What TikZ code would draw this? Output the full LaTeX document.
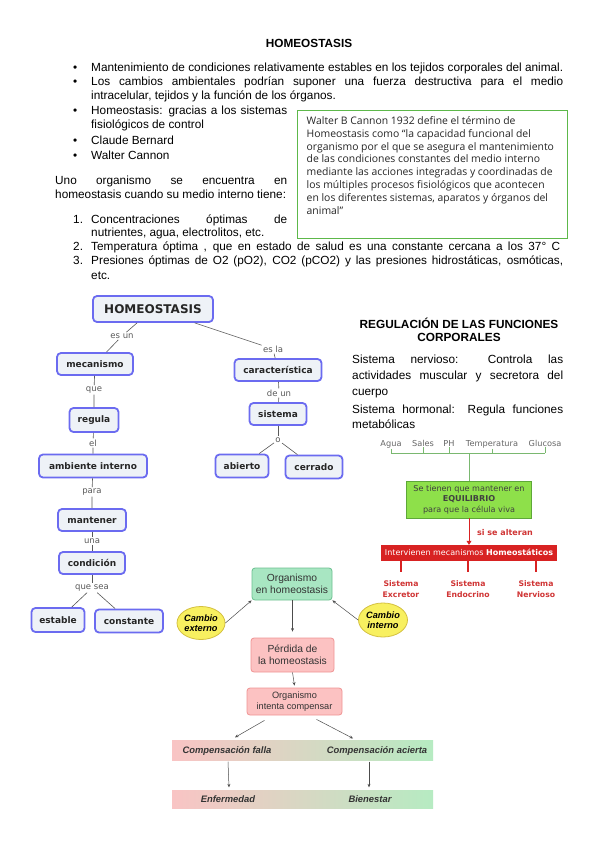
\documentclass[tikz,border=0pt]{standalone}
\usepackage{fontspec}
\setmainfont{Liberation Sans}
\newfontfamily\dvs{DejaVu Sans}
\newfontfamily\cfont{Open Sans}
\usetikzlibrary{arrows.meta,shapes.geometric,calc}
\definecolor{cmborder}{HTML}{6B6BF0}
\definecolor{cmfill}{HTML}{EEF2F7}
\definecolor{cannon}{HTML}{5DB84A}
\definecolor{lime}{HTML}{8EE04A}
\definecolor{limeb}{HTML}{5EA838}
\definecolor{rojo}{HTML}{D82222}
\definecolor{rojotxt}{HTML}{D03535}
\definecolor{mint}{HTML}{A8E6C2}
\definecolor{mintb}{HTML}{6CC090}
\definecolor{rosa}{HTML}{FCC2C2}
\definecolor{rosab}{HTML}{F09494}
\definecolor{amar}{HTML}{F8F060}
\definecolor{amarb}{HTML}{D4C040}
\definecolor{bandpink}{HTML}{F9C4C4}
\definecolor{bandgreen}{HTML}{B6EBC2}
\definecolor{brkgreen}{HTML}{7AB870}
\newcommand{\jl}[2]{\makebox[#1][s]{#2}}
\begin{document}
\begin{tikzpicture}[x=1pt,y=-1pt,
  body/.style={anchor=base west,inner sep=0pt,font=\fontsize{11.8}{14}\selectfont},
  cbox/.style={draw=cmborder,line width=1.8pt,fill=cmfill,rounded corners=4pt,inner sep=0pt,font=\dvs\bfseries\fontsize{9}{11}\selectfont,text=black!85},
  clab/.style={inner sep=1.2pt,font=\dvs\fontsize{8.5}{10}\selectfont,text=black!65},
  cline/.style={draw=black!65,line width=0.6pt},
  rlab/.style={anchor=base,inner sep=1pt,font=\dvs\fontsize{8.2}{9}\selectfont,text=black!60},
  brk/.style={draw=brkgreen,line width=0.8pt},
  stxt/.style={align=center,font=\dvs\bfseries\fontsize{7.7}{11}\selectfont,text=rojotxt,inner sep=0pt},
  stem/.style={draw=rojo,line width=1.6pt},
  fbox/.style={rounded corners=3pt,line width=0.8pt,align=center,inner sep=0pt,font=\fontsize{10.3}{12}\selectfont,text=black!80},
  arr/.style={draw=black!70,line width=0.5pt,-{Stealth[length=3.5pt,width=3pt]}},
  band/.style={minimum width=261pt,inner sep=0pt,left color=bandpink,right color=bandgreen,draw=none},
  btxt/.style={font=\bfseries\itshape\fontsize{9.4}{11}\selectfont,text=black!80,inner sep=1pt}
]
\useasboundingbox[fill=white] (0,0) rectangle (599,848);

% ---------- header text ----------
\node[body,anchor=base,font=\bfseries\fontsize{11.8}{14}\selectfont] (title) at (309,48) {HOMEOSTASIS};
\node[body] (bu1) at (73,72) {\textbullet};
\node[body] (bu2) at (73,86) {\textbullet};
\node[body] (bu3) at (73,114) {\textbullet};
\node[body] (bu4) at (73,144) {\textbullet};
\node[body] (bu5) at (73,159) {\textbullet};
\node[body] (l1) at (91,72) {\jl{472pt}{Mantenimiento de condiciones relativamente estables en los tejidos corporales del animal.}};
\node[body] (l2) at (91,86) {\jl{472pt}{Los cambios ambientales podrían suponer una fuerza destructiva para el medio}};
\node[body] (l3) at (91,99.5) {intracelular, tejidos y la función de los órganos.};
\node[body] (l4) at (91,114) {\jl{196pt}{Homeostasis: gracias a los sistemas}};
\node[body] (l5) at (91,128.5) {fisiológicos de control};
\node[body] (l6) at (91,144) {Claude Bernard};
\node[body] (l7) at (91,159) {Walter Cannon};
\node[body] (l8) at (55,184) {\jl{232pt}{Uno organismo se encuentra en}};
\node[body] (l9) at (55,198.5) {homeostasis cuando su medio interno tiene:};
\node[body] (n1) at (73,223) {1.};
\node[body] (l10) at (91,223) {\jl{196pt}{Concentraciones óptimas de}};
\node[body] (l11) at (91,236) {nutrientes, agua, electrolitos, etc.};
\node[body] (n2) at (73,250) {2.};
\node[body] (l12) at (91,250) {\jl{469pt}{Temperatura óptima , que en estado de salud es una constante cercana a los 37° C}};
\node[body] (n3) at (73,264) {3.};
\node[body] (l13) at (91,264) {\jl{472pt}{Presiones óptimas de O2 (pO2), CO2 (pCO2) y las presiones hidrostáticas, osmóticas,}};
\node[body] (l14) at (91,279) {etc.};

% ---------- Cannon box ----------
\node[draw=cannon,line width=1.2pt,minimum width=270pt,minimum height=128pt,inner sep=0pt,anchor=north west] (cbx) at (297,110) {};
\node[anchor=north west,inner sep=0pt,align=left,font=\cfont\fontsize{10.4}{12.9}\selectfont,text=black!85] (ctx) at (306.5,115) {\strut Walter B Cannon 1932 define el término de\\Homeostasis como “la capacidad funcional del\\organismo por el que se asegura el mantenimiento\\de las condiciones constantes del medio interno\\mediante las acciones integradas y coordinadas de\\los múltiples procesos fisiológicos que acontecen\\en los diferentes sistemas, aparatos y órganos del\\animal”};

% ---------- concept map ----------
\node[cbox,minimum width=120pt,minimum height=26pt,font=\dvs\bfseries\fontsize{12}{14}\selectfont] (homeo) at (153,309) {HOMEOSTASIS};
\node[clab] (esun) at (122,336) {es un};
\node[cbox,minimum width=76pt,minimum height=22pt] (mecan) at (95,364) {mecanismo};
\node[clab] (que) at (94,390) {que};
\node[cbox,minimum width=49pt,minimum height=24pt] (regula) at (94,420) {regula};
\node[clab] (el) at (93,443) {el};
\node[cbox,minimum width=108pt,minimum height=23pt] (ambiente) at (93,466) {ambiente interno};
\node[clab] (para) at (92,492) {para};
\node[cbox,minimum width=68pt,minimum height=22pt] (mantener) at (92,520) {mantener};
\node[clab] (una) at (92,541) {una};
\node[cbox,minimum width=66pt,minimum height=22pt] (condicion) at (92,563) {condición};
\node[clab] (quesea) at (92,588) {que sea};
\node[cbox,minimum width=53pt,minimum height=24pt] (estable) at (58,620) {estable};
\node[cbox,minimum width=68pt,minimum height=23pt] (constante) at (129,621) {constante};
\node[clab] (esla) at (273,349) {es la};
\node[cbox,minimum width=87pt,minimum height=22pt] (caract) at (278,370) {característica};
\node[clab] (deun) at (279,393) {de un};
\node[cbox,minimum width=57pt,minimum height=22pt] (sistema) at (278,414) {sistema};
\node[clab] (o) at (278,440) {o};
\node[cbox,minimum width=53pt,minimum height=23pt] (abierto) at (242,466) {abierto};
\node[cbox,minimum width=57pt,minimum height=23pt] (cerrado) at (314,467) {cerrado};

\draw[cline] (homeo) -- (esun) -- (mecan);
\draw[cline] (mecan) -- (que) -- (regula);
\draw[cline] (regula) -- (el) -- (ambiente);
\draw[cline] (ambiente) -- (para) -- (mantener);
\draw[cline] (mantener) -- (una) -- (condicion);
\draw[cline] (condicion) -- (quesea);
\draw[cline] (quesea) -- (estable);
\draw[cline] (quesea) -- (constante);
\draw[cline] (homeo) -- (esla) -- (caract);
\draw[cline] (caract) -- (deun) -- (sistema);
\draw[cline] (sistema) -- (o);
\draw[cline] (o) -- (abierto);
\draw[cline] (o) -- (cerrado);

% ---------- regulación ----------
\node[body,anchor=base,font=\bfseries\fontsize{11.8}{14}\selectfont] (reg1) at (459,328) {REGULACIÓN DE LAS FUNCIONES};
\node[body,anchor=base,font=\bfseries\fontsize{11.8}{14}\selectfont] (reg2) at (459,341.5) {CORPORALES};
\node[body] (r1) at (352,363) {\jl{211pt}{Sistema nervioso: Controla las}};
\node[body] (r2) at (352,379) {\jl{211pt}{actividades muscular y secretora del}};
\node[body] (r3) at (352,395) {cuerpo};
\node[body] (r4) at (352,413) {\jl{211pt}{Sistema hormonal: Regula funciones}};
\node[body] (r5) at (352,428) {metabólicas};

% ---------- equilibrio chart ----------
\node[rlab] (agua) at (391,446) {Agua};
\node[rlab] (sales) at (423,446) {Sales};
\node[rlab] (ph) at (449,446) {PH};
\node[rlab] (temp) at (492,446) {Temperatura};
\node[rlab] (glucosa) at (545,446) {Glucosa};
\coordinate (bar) at (469,453);
\draw[brk] (agua.south |- bar) -- (glucosa.south |- bar);
\foreach \n in {agua,sales,ph,temp,glucosa} {\draw[brk] (\n.south) -- (\n.south |- bar);}
\node[draw=limeb,fill=lime,line width=0.6pt,minimum width=125pt,minimum height=37pt,inner sep=0pt,align=center,font=\dvs\fontsize{8.1}{10.7}\selectfont,text=black!75] (eq) at (469,499.5) {Se tienen que mantener en\\\textbf{EQUILIBRIO}\\para que la célula viva};
\draw[brk] (bar) -- (eq.north);
\node[fill=rojo,draw=rojo,minimum width=175pt,minimum height=15pt,inner sep=0pt,text=white,font=\dvs\fontsize{8}{9}\selectfont] (inter) at (469,552.5) {Intervienen mecanismos \textbf{Homeostáticos}};
\draw[draw=rojo,line width=0.8pt,-{Triangle[length=4pt,width=5pt]}] (eq.south) -- (inter.north);
\node[font=\dvs\bfseries\fontsize{8}{9}\selectfont,text=rojotxt] (alter) at (505,533) {si se alteran};
\node[stxt] (s1) at (401,589) {Sistema\\Excretor};
\node[stxt] (s2) at (468,589) {Sistema\\Endocrino};
\node[stxt] (s3) at (536,589) {Sistema\\Nervioso};
\draw[stem,shorten >=8pt] (inter.south -| s1.north) -- (s1.north);
\draw[stem,shorten >=8pt] (inter.south -| s2.north) -- (s2.north);
\draw[stem,shorten >=8pt] (inter.south -| s3.north) -- (s3.north);

% ---------- homeostasis flow ----------
\node[fbox,draw=mintb,fill=mint,minimum width=80pt,minimum height=32pt] (org) at (292,584) {Organismo\\en homeostasis};
\node[ellipse,draw=amarb,fill=amar,line width=0.8pt,minimum width=48pt,minimum height=33pt,inner sep=0pt,align=center,font=\bfseries\itshape\fontsize{9.2}{10.5}\selectfont] (cext) at (201,623) {Cambio\\externo};
\node[ellipse,draw=amarb,fill=amar,line width=0.8pt,minimum width=49pt,minimum height=34pt,inner sep=0pt,align=center,font=\bfseries\itshape\fontsize{9.2}{10.5}\selectfont] (cint) at (383,620) {Cambio\\interno};
\node[fbox,draw=rosab,fill=rosa,minimum width=83pt,minimum height=34pt] (perd) at (292.5,655) {Pérdida de\\la homeostasis};
\node[fbox,draw=rosab,fill=rosa,minimum width=95pt,minimum height=27pt,font=\fontsize{9.2}{11}\selectfont] (intc) at (294.5,701.5) {Organismo\\intenta compensar};
\draw[arr] (cext.east) -- (org.south west);
\draw[arr] (cint.west) -- (org.south east);
\draw[arr] (org.south -| perd.north) -- ($(perd.north)+(0,-6)$);
\draw[arr] (perd.south) -- ($(intc.north)+(0,-2)$);

\node[band,minimum height=20pt] (band1) at (302.5,750) {};
\node[band,minimum height=18pt] (band2) at (302.5,799) {};
\node[btxt] (cf) at (227,751) {Compensación falla};
\node[btxt] (ca) at (377,751) {Compensación acierta};
\node[btxt] (enf) at (228,799) {Enfermedad};
\node[btxt] (bien) at (370,799) {Bienestar};
\draw[arr] ($(intc.south)+(-30,5)$) -- ($(cf.north)+(8,-8)$);
\draw[arr] ($(intc.south)+(22,4)$) -- ($(ca.north)+(-24,-7)$);
\draw[arr] ($(cf.south)+(1,5)$) -- ($(enf.north)+(1,-7)$);
\draw[arr] ($(ca.south)+(-8,5)$) -- ($(bien.north)+(-1,-7)$);
\end{tikzpicture}
\end{document}
